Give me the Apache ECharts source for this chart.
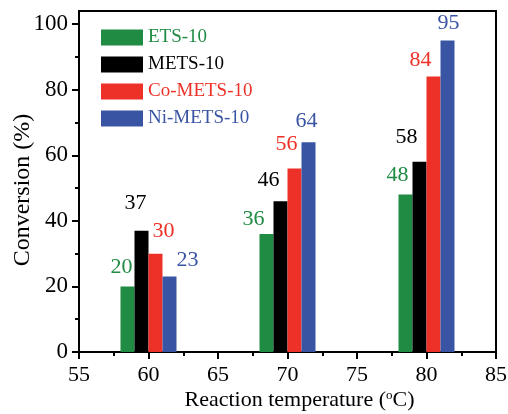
<!DOCTYPE html>
<html>
<head>
<meta charset="utf-8">
<script src="https://cdn.jsdelivr.net/npm/echarts@6/dist/echarts.min.js"></script>
<style>html,body{margin:0;padding:0;background:#fff;}#c{width:508px;height:414px;}</style>
</head>
<body>
<div id="c"></div>
<script>
// ---- data ----
const temperatures = [60, 70, 80];
const seriesNames = ['ETS-10', 'METS-10', 'Co-METS-10', 'Ni-METS-10'];
const etsValues = [20, 36, 48];
const metsValues = [37, 46, 58];
const coMetsValues = [30, 56, 84];
const niMetsValues = [23, 64, 95];
const yTickLabels = [0, 20, 40, 60, 80, 100];
const yMinorTicks = [10, 30, 50, 70, 90];

// ---- style ----
const colors = ['#1f8b43', '#000000', '#ee3128', '#3a54a4'];
const labelOffsets = [
  [[-6, -3], [-13, 1], [-8, -3]],
  [[-6, -11], [-12, -5], [-13, -9]],
  [[8, -6], [-8, -8], [-13, 0]],
  [[18, 0], [-2, -5], [1, -1]]
];
const FONT = '"Liberation Serif", "Times New Roman", serif';

const allValues = [etsValues, metsValues, coMetsValues, niMetsValues];

const chart = echarts.init(document.getElementById('c'));
const series = seriesNames.map((name, si) => ({
  name: name,
  type: 'bar',
  xAxisIndex: 0,
  yAxisIndex: 0,
  barWidth: 14,
  barGap: '0%',
  itemStyle: { color: colors[si] },
  label: {
    show: true,
    position: 'top',
    distance: 5,
    color: colors[si],
    fontFamily: FONT,
    fontSize: 22,
    formatter: p => p.value[1]
  },
  data: temperatures.map((t, i) => ({
    value: [t, allValues[si][i]],
    label: { offset: labelOffsets[si][i] }
  }))
}));

chart.setOption({
  animation: false,
  backgroundColor: '#fff',
  textStyle: { fontFamily: FONT },
  grid: { left: 79, right: 12, top: 11, bottom: 62, outerBoundsMode: 'none', containLabel: false, show: true, borderColor: '#000', borderWidth: 2, backgroundColor: 'transparent' },
  legend: {
    orient: 'vertical',
    left: 101,
    top: 28,
    padding: 0,
    itemWidth: 42,
    itemHeight: 16,
    itemGap: 8,
    icon: 'rect',
    textStyle: { fontFamily: FONT, fontSize: 19, lineHeight: 16 },
    data: seriesNames.map((n, i) => ({ name: n, textStyle: { color: colors[i] }, itemStyle: { color: colors[i] } }))
  },
  xAxis: [{
    type: 'value',
    min: 55, max: 85, interval: 5,
    name: 'Reaction temperature ({sup|o}C)',
    nameLocation: 'middle',
    nameGap: 37,
    nameMoveOverlap: false,
    nameTextStyle: {
      fontFamily: FONT, fontSize: 22, color: '#000', padding: [0, 0, 0, 24],
      rich: { sup: { fontFamily: FONT, fontSize: 13, verticalAlign: 'top', color: '#000', lineHeight: 22 } }
    },
    axisLine: { show: true, lineStyle: { color: '#000', width: 2 } },
    axisTick: { show: true, length: 7, lineStyle: { color: '#000', width: 2 } },
    minorTick: { show: true, splitNumber: 2, length: 4, lineStyle: { color: '#000', width: 2 } },
    axisLabel: { fontFamily: FONT, fontSize: 22, color: '#000', margin: 12 },
    splitLine: { show: false }
  }],
  yAxis: [{
    type: 'value',
    min: 0, max: 104, interval: 20,
    name: 'Conversion (%)',
    nameLocation: 'middle',
    nameGap: 44,
    nameMoveOverlap: false,
    nameTextStyle: { fontFamily: FONT, fontSize: 24, color: '#000', padding: [0, 17, 0, 0] },
    axisLine: { show: true, lineStyle: { color: '#000', width: 2 } },
    axisTick: { show: true, length: 7, customValues: yTickLabels, lineStyle: { color: '#000', width: 2 } },
    axisLabel: { fontFamily: FONT, fontSize: 23, color: '#000', margin: 11, customValues: yTickLabels },
    splitLine: { show: false }
  }, {
    type: 'value',
    min: 0, max: 104,
    position: 'left',
    axisLine: { show: false },
    axisTick: { show: true, length: 4, customValues: yMinorTicks, lineStyle: { color: '#000', width: 2 } },
    axisLabel: { show: false },
    splitLine: { show: false }
  }],
  series: series
});
</script>
</body>
</html>
